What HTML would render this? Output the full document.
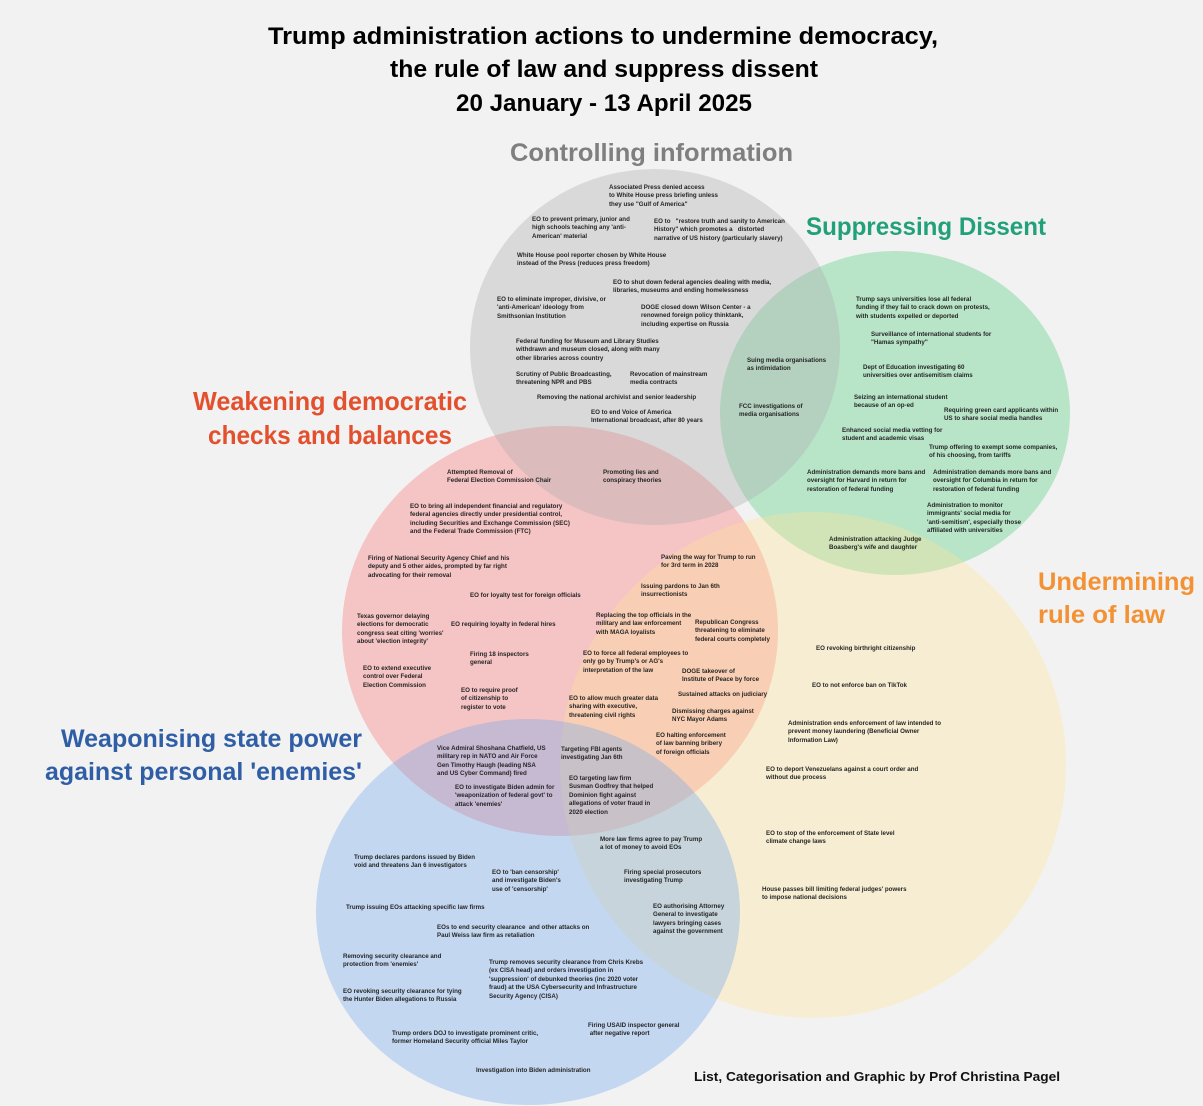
<!DOCTYPE html>
<html>
<head>
<meta charset="utf-8">
<style>
  html, body { margin:0; padding:0; }
  body { width:1203px; height:1106px; background:#f2f2f2; overflow:hidden; }
  #wrap { position:relative; width:1203px; height:1106px; background:#f2f2f2; overflow:hidden; }
  svg { position:absolute; left:0; top:0; }
  .t { position:absolute; font-family:"Liberation Sans", sans-serif; font-weight:bold; font-size:6.2px; line-height:8.5px; color:#262626; white-space:pre; }
</style>
</head>
<body>
<div id="wrap">
<svg width="1203" height="1106" viewBox="0 0 1203 1106" xmlns="http://www.w3.org/2000/svg">
  <ellipse cx="895" cy="413" rx="175" ry="162" fill="#4dcb7b" fill-opacity="0.35"/>
  <ellipse cx="560" cy="631" rx="218" ry="205" fill="#fb6f6f" fill-opacity="0.35"/>
  <ellipse cx="813" cy="765" rx="253" ry="253" fill="#ffe699" fill-opacity="0.35"/>
  <ellipse cx="528" cy="912" rx="212" ry="193" fill="#6fa6ed" fill-opacity="0.35"/>
  <ellipse cx="655" cy="347" rx="185" ry="178" fill="#ababab" fill-opacity="0.35"/>

  <g font-family="Liberation Sans, sans-serif" font-weight="bold">
    <text x="268" y="44" font-size="24" fill="#000" textLength="670" lengthAdjust="spacingAndGlyphs">Trump administration actions to undermine democracy,</text>
    <text x="390" y="77" font-size="24" fill="#000" textLength="428" lengthAdjust="spacingAndGlyphs">the rule of law and suppress dissent</text>
    <text x="456" y="111" font-size="24" fill="#000" textLength="296" lengthAdjust="spacingAndGlyphs">20 January - 13 April 2025</text>

    <text x="510" y="161" font-size="25" fill="#7f7f7f" textLength="283" lengthAdjust="spacingAndGlyphs">Controlling information</text>
    <text x="806" y="235" font-size="25" fill="#22a07a" textLength="240" lengthAdjust="spacingAndGlyphs">Suppressing Dissent</text>
    <text x="193" y="410" font-size="26" fill="#e2502e" textLength="274" lengthAdjust="spacingAndGlyphs">Weakening democratic</text>
    <text x="208" y="444" font-size="26" fill="#e2502e" textLength="244" lengthAdjust="spacingAndGlyphs">checks and balances</text>
    <text x="1038" y="590" font-size="25" fill="#f39234" textLength="157" lengthAdjust="spacingAndGlyphs">Undermining</text>
    <text x="1038" y="623" font-size="25" fill="#f39234" textLength="127" lengthAdjust="spacingAndGlyphs">rule of law</text>
    <text x="61" y="747" font-size="25" fill="#2f5ea6" textLength="301" lengthAdjust="spacingAndGlyphs">Weaponising state power</text>
    <text x="45" y="780" font-size="25" fill="#2f5ea6" textLength="317" lengthAdjust="spacingAndGlyphs">against personal 'enemies'</text>
    <text x="694" y="1081" font-size="13" fill="#111" textLength="366" lengthAdjust="spacingAndGlyphs">List, Categorisation and Graphic by Prof Christina Pagel</text>
  </g>
</svg>

<!-- Controlling information -->
<div class="t" style="left:609px;top:183.5px;">Associated Press denied access
to White House press briefing unless
they use "Gulf of America"</div>
<div class="t" style="left:532px;top:215.5px;">EO to prevent primary, junior and
high schools teaching any 'anti-
American' material</div>
<div class="t" style="left:654px;top:217.5px;">EO to   "restore truth and sanity to American
History" which promotes a   distorted
narrative of US history (particularly slavery)</div>
<div class="t" style="left:517px;top:251.5px;">White House pool reporter chosen by White House
instead of the Press (reduces press freedom)</div>
<div class="t" style="left:613px;top:278.5px;">EO to shut down federal agencies dealing with media,
libraries, museums and ending homelessness</div>
<div class="t" style="left:497px;top:295.5px;">EO to eliminate improper, divisive, or
'anti-American' ideology from
Smithsonian Institution</div>
<div class="t" style="left:641px;top:303.5px;">DOGE closed down Wilson Center - a
renowned foreign policy thinktank,
including expertise on Russia</div>
<div class="t" style="left:516px;top:337.5px;">Federal funding for Museum and Library Studies
withdrawn and museum closed, along with many
other libraries across country</div>
<div class="t" style="left:516px;top:370.5px;">Scrutiny of Public Broadcasting,
threatening NPR and PBS</div>
<div class="t" style="left:630px;top:370.5px;">Revocation of mainstream
media contracts</div>
<div class="t" style="left:537px;top:393.5px;">Removing the national archivist and senior leadership</div>
<div class="t" style="left:591px;top:408.5px;">EO to end Voice of America
International broadcast, after 80 years</div>
<div class="t" style="left:747px;top:356.5px;">Suing media organisations
as intimidation</div>
<div class="t" style="left:739px;top:402.5px;">FCC investigations of
media organisations</div>
<div class="t" style="left:603px;top:468.5px;">Promoting lies and
conspiracy theories</div>

<!-- Suppressing Dissent -->
<div class="t" style="left:856px;top:295.5px;">Trump says universities lose all federal
funding if they fail to crack down on protests,
with students expelled or deported</div>
<div class="t" style="left:871px;top:330.5px;">Surveillance of international students for
"Hamas sympathy"</div>
<div class="t" style="left:863px;top:363.5px;">Dept of Education investigating 60
universities over antisemitism claims</div>
<div class="t" style="left:854px;top:393.5px;">Seizing an international student
because of an op-ed</div>
<div class="t" style="left:944px;top:406.5px;">Requiring green card applicants within
US to share social media handles</div>
<div class="t" style="left:842px;top:426.5px;">Enhanced social media vetting for
student and academic visas</div>
<div class="t" style="left:929px;top:443.5px;">Trump offering to exempt some companies,
of his choosing, from tariffs</div>
<div class="t" style="left:807px;top:468.5px;">Administration demands more bans and
oversight for Harvard in return for
restoration of federal funding</div>
<div class="t" style="left:933px;top:468.5px;">Administration demands more bans and
oversight for Columbia in return for
restoration of federal funding</div>
<div class="t" style="left:927px;top:501.5px;">Administration to monitor
immigrants' social media for
'anti-semitism', especially those
affiliated with universities</div>
<div class="t" style="left:829px;top:535.5px;">Administration attacking Judge
Boasberg's wife and daughter</div>

<!-- Weakening democratic checks -->
<div class="t" style="left:447px;top:468.5px;">Attempted Removal of
Federal Election Commission Chair</div>
<div class="t" style="left:410px;top:502.5px;">EO to bring all independent financial and regulatory
federal agencies directly under presidential control,
including Securities and Exchange Commission (SEC)
and the Federal Trade Commission (FTC)</div>
<div class="t" style="left:368px;top:554.5px;">Firing of National Security Agency Chief and his
deputy and 5 other aides, prompted by far right
advocating for their removal</div>
<div class="t" style="left:470px;top:591.5px;">EO for loyalty test for foreign officials</div>
<div class="t" style="left:357px;top:612.5px;">Texas governor delaying
elections for democratic
congress seat citing 'worries'
about 'election integrity'</div>
<div class="t" style="left:451px;top:620.5px;">EO requiring loyalty in federal hires</div>
<div class="t" style="left:470px;top:650.5px;">Firing 18 inspectors
general</div>
<div class="t" style="left:363px;top:664.5px;">EO to extend executive
control over Federal
Election Commission</div>
<div class="t" style="left:461px;top:686.5px;">EO to require proof
of citizenship to
register to vote</div>

<!-- Orange overlap -->
<div class="t" style="left:661px;top:553.5px;">Paving the way for Trump to run
for 3rd term in 2028</div>
<div class="t" style="left:641px;top:582.5px;">Issuing pardons to Jan 6th
insurrectionists</div>
<div class="t" style="left:596px;top:611.5px;">Replacing the top officials in the
military and law enforcement
with MAGA loyalists</div>
<div class="t" style="left:695px;top:618.5px;">Republican Congress
threatening to eliminate
federal courts completely</div>
<div class="t" style="left:583px;top:649.5px;">EO to force all federal employees to
only go by Trump's or AG's
interpretation of the law</div>
<div class="t" style="left:682px;top:667.5px;">DOGE takeover of
Institute of Peace by force</div>
<div class="t" style="left:678px;top:690.5px;">Sustained attacks on judiciary</div>
<div class="t" style="left:569px;top:694.5px;">EO to allow much greater data
sharing with executive,
threatening civil rights</div>
<div class="t" style="left:672px;top:707.5px;">Dismissing charges against
NYC Mayor Adams</div>
<div class="t" style="left:656px;top:731.5px;">EO halting enforcement
of law banning bribery
of foreign officials</div>
<div class="t" style="left:561px;top:745.5px;">Targeting FBI agents
investigating Jan 6th</div>

<!-- Weaponising -->
<div class="t" style="left:437px;top:744.5px;">Vice Admiral Shoshana Chatfield, US
military rep in NATO and Air Force
Gen Timothy Haugh (leading NSA
and US Cyber Command) fired</div>
<div class="t" style="left:455px;top:783.5px;">EO to investigate Biden admin for
'weaponization of federal govt' to
attack 'enemies'</div>
<div class="t" style="left:569px;top:774.5px;">EO targeting law firm
Susman Godfrey that helped
Dominion fight against
allegations of voter fraud in
2020 election</div>
<div class="t" style="left:600px;top:835.5px;">More law firms agree to pay Trump
a lot of money to avoid EOs</div>
<div class="t" style="left:354px;top:853.5px;">Trump declares pardons issued by Biden
void and threatens Jan 6 investigators</div>
<div class="t" style="left:492px;top:868.5px;">EO to 'ban censorship'
and investigate Biden's
use of 'censorship'</div>
<div class="t" style="left:624px;top:868.5px;">Firing special prosecutors
investigating Trump</div>
<div class="t" style="left:346px;top:903.5px;">Trump issuing EOs attacking specific law firms</div>
<div class="t" style="left:653px;top:902.5px;">EO authorising Attorney
General to investigate
lawyers bringing cases
against the government</div>
<div class="t" style="left:437px;top:923.5px;">EOs to end security clearance  and other attacks on
Paul Weiss law firm as retaliation</div>
<div class="t" style="left:343px;top:952.5px;">Removing security clearance and
protection from 'enemies'</div>
<div class="t" style="left:489px;top:958.5px;">Trump removes security clearance from Chris Krebs
(ex CISA head) and orders investigation in
'suppression' of debunked theories (inc 2020 voter
fraud) at the USA Cybersecurity and Infrastructure
Security Agency (CISA)</div>
<div class="t" style="left:343px;top:987.5px;">EO revoking security clearance for tying
the Hunter Biden allegations to Russia</div>
<div class="t" style="left:392px;top:1029.5px;">Trump orders DOJ to investigate prominent critic,
former Homeland Security official Miles Taylor</div>
<div class="t" style="left:588px;top:1021.5px;">Firing USAID inspector general
 after negative report</div>
<div class="t" style="left:476px;top:1066.5px;">Investigation into Biden administration</div>

<!-- Undermining rule of law -->
<div class="t" style="left:816px;top:644.5px;">EO revoking birthright citizenship</div>
<div class="t" style="left:812px;top:681.5px;">EO to not enforce ban on TikTok</div>
<div class="t" style="left:788px;top:719.5px;">Administration ends enforcement of law intended to
prevent money laundering (Beneficial Owner
Information Law)</div>
<div class="t" style="left:766px;top:765.5px;">EO to deport Venezuelans against a court order and
without due process</div>
<div class="t" style="left:766px;top:829.5px;">EO to stop of the enforcement of State level
climate change laws</div>
<div class="t" style="left:762px;top:885.5px;">House passes bill limiting federal judges' powers
to impose national decisions</div>
</div>
</body>
</html>
